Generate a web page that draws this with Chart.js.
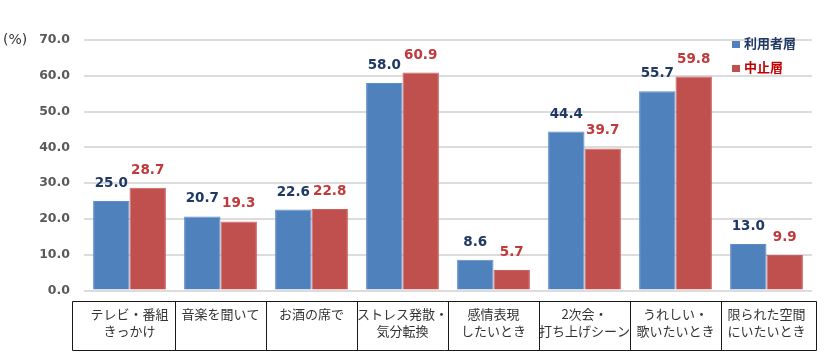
<!DOCTYPE html>
<html><head><meta charset="utf-8">
<script src="https://cdn.jsdelivr.net/npm/chart.js@4/dist/chart.umd.min.js"></script>
<style>html,body{margin:0;padding:0;background:#fff}#wrap{width:830px;height:360px;position:relative}</style>
</head><body><div id="wrap"><canvas id="c" width="830" height="360"></canvas></div>
<script>
const categories = [["テレビ・番組","きっかけ"],["音楽を聞いて"],["お酒の席で"],["ストレス発散・","気分転換"],["感情表現","したいとき"],["2次会・","打ち上げシーン"],["うれしい・","歌いたいとき"],["限られた空間","にいたいとき"]];
const seriesNames = ["利用者層","中止層"];
const usersValues = [25.0,20.7,22.6,58.0,8.6,44.4,55.7,13.0];
const stoppedValues = [28.7,19.3,22.8,60.9,5.7,39.7,59.8,9.9];
const yTicks = [0,10,20,30,40,50,60,70];
const unitLabel = "(%)";

const labelColors = ["#1f3864","#c0393b"];
const legendColors = ["#1f3864","#c00000"];
const numFont = "bold 13.5px 'DejaVu Sans'";

const overlay = {
  id:'overlay',
  afterDatasetsDraw(chart){
    const ctx = chart.ctx;
    ctx.save();
    ctx.font = numFont;
    ctx.textAlign = 'center';
    ctx.textBaseline = 'alphabetic';
    chart.data.datasets.forEach((ds,i)=>{
      const meta = chart.getDatasetMeta(i);
      ctx.fillStyle = labelColors[i];
      meta.data.forEach((el,j)=>{
        ctx.fillText(ds.data[j].toFixed(1), el.x, el.y - 14);
      });
    });
    // unit label
    ctx.fillStyle = '#333';
    ctx.textAlign = 'left';
    ctx.textBaseline = 'middle';
    ctx.font = "14px 'DejaVu Sans'";
    ctx.fillText(unitLabel, 3, chart.scales.y.getPixelForValue(70));
    // legend
    ctx.font = "bold 13px 'Noto Sans CJK JP'";
    chart.data.datasets.forEach((ds,i)=>{
      const y = 44 + i*24;
      ctx.fillStyle = ds.backgroundColor;
      ctx.fillRect(732, y-3, 8, 7);
      ctx.fillStyle = legendColors[i];
      ctx.fillText(ds.label, 744, y - 1);
    });
    // table
    const xs = chart.scales.x;
    const n = categories.length;
    const top = 301.5, bottom = 350.5;
    ctx.strokeStyle = '#1a1a1a';
    ctx.lineWidth = 1;
    const bounds = [];
    for(let k=0;k<=n;k++){
      let x;
      if(k===0) x = 72.5;
      else if(k===n) x = 816.5;
      else x = Math.round((xs.getPixelForValue(k-1)+xs.getPixelForValue(k))/2)+0.5;
      bounds.push(x);
    }
    ctx.beginPath();
    ctx.moveTo(bounds[0],top); ctx.lineTo(bounds[n],top);
    ctx.moveTo(bounds[0],bottom); ctx.lineTo(bounds[n],bottom);
    bounds.forEach(x=>{ctx.moveTo(x,top);ctx.lineTo(x,bottom);});
    ctx.stroke();
    ctx.restore();
  }
};

new Chart(document.getElementById('c'),{
  type:'bar',
  data:{
    labels:categories,
    datasets:[
      {label:seriesNames[0],data:usersValues,backgroundColor:'#4f81bd',borderColor:'#5b8cc8',borderWidth:1,categoryPercentage:0.8,barPercentage:1.0},
      {label:seriesNames[1],data:stoppedValues,backgroundColor:'#c0504d',borderColor:'#cc5f5c',borderWidth:1,categoryPercentage:0.8,barPercentage:1.0}
    ]
  },
  options:{
    responsive:false,
    animation:false,
    layout:{padding:{top:40,right:18,left:0,bottom:0}},
    plugins:{legend:{display:false},tooltip:{enabled:false}},
    scales:{
      x:{
        grid:{display:false},
        border:{display:false},
        ticks:{font:{family:"'Noto Sans CJK JP'",size:13,lineHeight:1.3},color:'#333',autoSkip:false,maxRotation:0,minRotation:0,padding:7},
        afterFit(s){s.height=69.5;}
      },
      y:{
        min:0,max:70,
        afterBuildTicks(s){s.ticks = yTicks.map(v=>({value:v}));},
        grid:{color:'#dcdcdc',lineWidth:2,drawTicks:false},
        border:{display:false},
        ticks:{font:{family:"'DejaVu Sans'",size:12.5,weight:'bold'},color:'#595959',padding:14,callback:v=>v.toFixed(1)},
        afterFit(s){s.width=84;}
      }
    }
  },
  plugins:[overlay]
});
</script></body></html>
